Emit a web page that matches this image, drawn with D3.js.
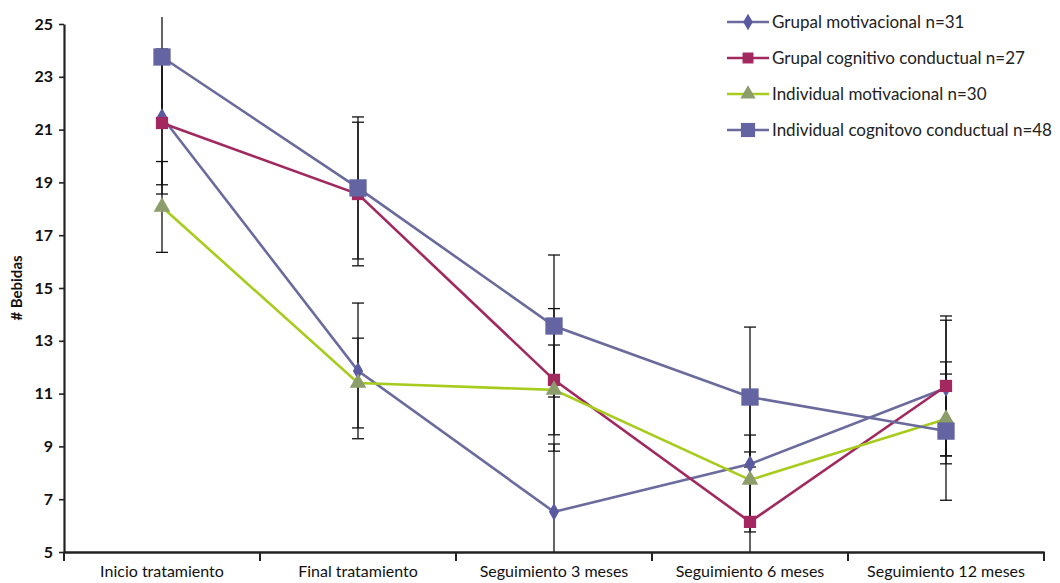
<!DOCTYPE html>
<html>
<head>
<meta charset="utf-8">
<script src="https://cdn.jsdelivr.net/npm/d3@7"></script>
<style>
  body { margin: 0; background: #fff; }
  svg { display: block; }
</style>
</head>
<body>
<svg id="chart" width="1060" height="583"></svg>
<script>
// data
const categories = ['Inicio tratamiento', 'Final tratamiento', 'Seguimiento 3 meses', 'Seguimiento 6 meses', 'Seguimiento 12 meses'];
const yTicks = [5, 7, 9, 11, 13, 15, 17, 19, 21, 23, 25];

const grupalMot    = [21.48, 11.86, 6.52, 8.33, 11.21];
const grupalMotErr = [2.57, 2.57, 2.57, 2.57, 2.57];
const grupalCog    = [21.25, 18.56, 11.52, 6.14, 11.29];
const grupalCogErr = [2.69, 2.72, 2.70, 2.65, 2.65];
const indivMot     = [18.07, 11.40, 11.14, 7.73, 10.04];
const indivMotErr  = [1.72, 1.70, 1.70, 1.70, 1.70];
const indivCog     = [23.75, 18.79, 13.56, 10.87, 9.58];
const indivCogErr  = [2.50, 2.69, 2.69, 2.65, 2.62];

const series = [
  { name: 'Grupal motivacional n=31', values: grupalMot, err: grupalMotErr, line: '#6b6b9e', fill: '#5a5aa0', shape: d3.symbolDiamond, size: 90, legendSize: 80 },
  { name: 'Grupal cognitivo conductual n=27', values: grupalCog, err: grupalCogErr, line: '#a02a60', fill: '#a3285f', shape: d3.symbolSquare, size: 150, legendSize: 120 },
  { name: 'Individual motivacional n=30', values: indivMot, err: indivMotErr, line: '#a8cc1e', fill: '#8c9c6a', shape: d3.symbolTriangle, size: 120, legendSize: 100 },
  { name: 'Individual cognitovo conductual n=48', values: indivCog, err: indivCogErr, line: '#6a6a9c', fill: '#6464a2', shape: d3.symbolSquare, size: 300, legendSize: 200 }
];

const svg = d3.select('#chart');
const mLeft = 64, mRight = 1044, mTop = 24, mBottom = 552;

const x = d3.scaleBand().domain(categories).range([mLeft, mRight]);
const y = d3.scaleLinear().domain([5, 25]).range([mBottom, mTop]);
const cx = c => x(c) + x.bandwidth() / 2;

svg.append('defs').append('clipPath').attr('id', 'plot-clip')
  .append('rect').attr('x', mLeft).attr('y', 17).attr('width', mRight - mLeft + 10).attr('height', mBottom - 17);

const plot = svg.append('g').attr('clip-path', 'url(#plot-clip)');

// error bars
series.forEach(s => {
  const g = plot.append('g');
  categories.forEach((c, i) => {
    const hi = s.values[i] + s.err[i], lo = s.values[i] - s.err[i];
    g.append('line')
      .attr('x1', cx(c)).attr('x2', cx(c))
      .attr('y1', y(hi)).attr('y2', y(lo))
      .attr('stroke', '#111').attr('stroke-width', 1.3);
    [hi, lo].forEach(v => {
      g.append('line')
        .attr('x1', cx(c) - 6).attr('x2', cx(c) + 6)
        .attr('y1', y(v)).attr('y2', y(v))
        .attr('stroke', '#111').attr('stroke-width', 1.3);
    });
  });
});

// lines
const line = d3.line().x((d, i) => cx(categories[i])).y(d => y(d));
series.forEach(s => {
  plot.append('path')
    .datum(s.values)
    .attr('d', line)
    .attr('fill', 'none')
    .attr('stroke', s.line)
    .attr('stroke-width', 2.6);
});

// markers
series.forEach(s => {
  plot.append('g').selectAll('path')
    .data(s.values)
    .join('path')
    .attr('transform', (d, i) => `translate(${cx(categories[i])},${y(d)})`)
    .attr('d', d3.symbol().type(s.shape).size(s.size))
    .attr('fill', s.fill);
});

// y axis
const yAxis = svg.append('g')
  .attr('transform', `translate(${mLeft},0)`)
  .call(d3.axisLeft(y).tickValues(yTicks).tickSize(5).tickPadding(6).tickSizeOuter(0));
yAxis.select('.domain').attr('stroke', '#222').attr('stroke-width', 2.2);
yAxis.selectAll('.tick line').attr('stroke', '#222').attr('stroke-width', 1.6);
yAxis.selectAll('.tick text')
  .style('font-family', '"Lato", "DejaVu Sans", sans-serif')
  .style('font-size', '16px').style('font-weight', 'bold').attr('fill', '#111');

// x axis
const xAxis = svg.append('g')
  .attr('transform', `translate(0,${mBottom})`)
  .call(d3.axisBottom(x).tickSize(0).tickSizeOuter(0));
xAxis.select('.domain').attr('stroke', '#222').attr('stroke-width', 2.6);
xAxis.selectAll('.tick text')
  .attr('y', 14)
  .style('font-size', '16px')
  .style('font-family', '"Lato", "DejaVu Sans", sans-serif')
  .attr('fill', '#111');
// boundary ticks between categories
xAxis.selectAll('.bound')
  .data(categories.concat(['end']))
  .join('line')
  .attr('class', 'bound')
  .attr('x1', (d, i) => i < categories.length ? x(d) : mRight)
  .attr('x2', (d, i) => i < categories.length ? x(d) : mRight)
  .attr('y1', 0).attr('y2', 9)
  .attr('stroke', '#222').attr('stroke-width', 2);

// y title
svg.append('text')
  .attr('transform', `translate(22,288) rotate(-90)`)
  .attr('text-anchor', 'middle')
  .style('font-family', '"Lato", "DejaVu Sans", sans-serif')
  .style('font-size', '15px')
  .style('font-weight', 'bold')
  .attr('fill', '#111')
  .text('# Bebidas');

// legend
const legend = svg.append('g').attr('transform', 'translate(727,22)');
series.forEach((s, i) => {
  const row = legend.append('g').attr('transform', `translate(0,${i * 36})`);
  row.append('line').attr('x1', 0).attr('x2', 42).attr('y1', 0).attr('y2', 0)
    .attr('stroke', s.line).attr('stroke-width', 2.6);
  row.append('path').attr('transform', 'translate(21,0)')
    .attr('d', d3.symbol().type(s.shape).size(s.legendSize))
    .attr('fill', s.fill);
  row.append('text').attr('x', 45).attr('y', 6)
    .style('font-family', '"Lato", "DejaVu Sans", sans-serif')
    .style('font-size', '17px')
    .attr('fill', '#222')
    .text(s.name);
});
</script>
</body>
</html>
